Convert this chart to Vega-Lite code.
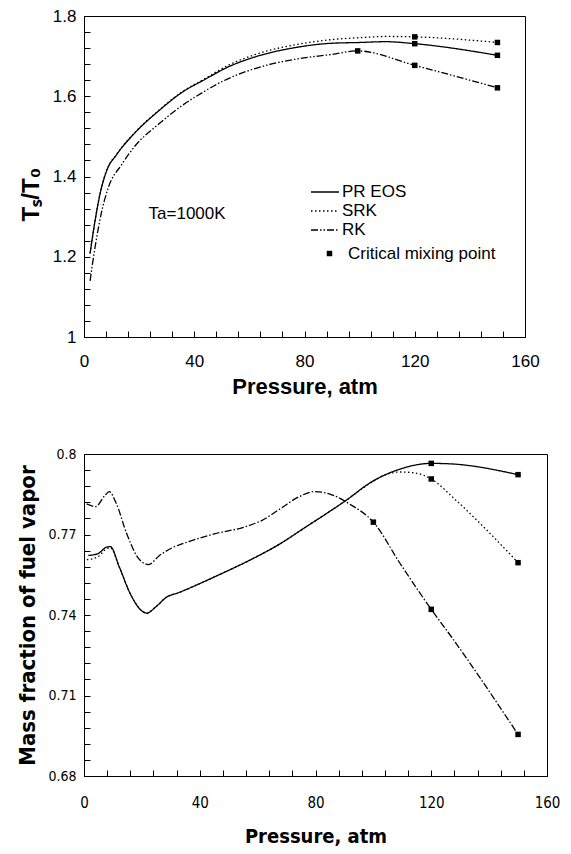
{
  "$schema": "https://vega.github.io/schema/vega-lite/v6.json",
  "padding": {"left": 16, "top": 6, "right": 5, "bottom": 5},
  "background": "white",
  "spacing": 48,
  "config": {
    "view": {"stroke": "black", "strokeWidth": 1},
    "font": "Liberation Sans",
    "axis": {"grid": false, "labelOverlap": false, "labelFlush": false, "tickCount": 40, "domainColor": "black", "tickColor": "black", "tickSize": -6, "tickWidth": 1, "domainWidth": 1, "labelColor": "black", "titleColor": "black", "labelFont": "Liberation Sans", "titleFont": "Liberation Sans"}
  },
  "datasets": {
    "topLines": [
      {"model": "PR EOS", "P": 2.2, "v": 1.208}, {"model": "PR EOS", "P": 4, "v": 1.289}, {"model": "PR EOS", "P": 5.8, "v": 1.356}, {"model": "PR EOS", "P": 8.2, "v": 1.414}, {"model": "PR EOS", "P": 11.9, "v": 1.455}, {"model": "PR EOS", "P": 18.5, "v": 1.509}, {"model": "PR EOS", "P": 27, "v": 1.563}, {"model": "PR EOS", "P": 35.4, "v": 1.609}, {"model": "PR EOS", "P": 43.9, "v": 1.642}, {"model": "PR EOS", "P": 52, "v": 1.672}, {"model": "PR EOS", "P": 63, "v": 1.7}, {"model": "PR EOS", "P": 76.4, "v": 1.721}, {"model": "PR EOS", "P": 89.6, "v": 1.732}, {"model": "PR EOS", "P": 100, "v": 1.734}, {"model": "PR EOS", "P": 109.5, "v": 1.736}, {"model": "PR EOS", "P": 120, "v": 1.731}, {"model": "PR EOS", "P": 150, "v": 1.702},
      {"model": "SRK", "P": 2.2, "v": 1.209}, {"model": "SRK", "P": 4, "v": 1.29}, {"model": "SRK", "P": 5.8, "v": 1.357}, {"model": "SRK", "P": 8.2, "v": 1.415}, {"model": "SRK", "P": 11.9, "v": 1.456}, {"model": "SRK", "P": 18.5, "v": 1.51}, {"model": "SRK", "P": 27, "v": 1.564}, {"model": "SRK", "P": 35.4, "v": 1.61}, {"model": "SRK", "P": 43.9, "v": 1.644}, {"model": "SRK", "P": 52, "v": 1.676}, {"model": "SRK", "P": 63, "v": 1.706}, {"model": "SRK", "P": 76.4, "v": 1.728}, {"model": "SRK", "P": 89.6, "v": 1.741}, {"model": "SRK", "P": 100, "v": 1.746}, {"model": "SRK", "P": 110, "v": 1.749}, {"model": "SRK", "P": 120, "v": 1.748}, {"model": "SRK", "P": 150, "v": 1.734},
      {"model": "RK", "P": 2.2, "v": 1.14}, {"model": "RK", "P": 4, "v": 1.223}, {"model": "RK", "P": 6.2, "v": 1.306}, {"model": "RK", "P": 8.8, "v": 1.372}, {"model": "RK", "P": 13.7, "v": 1.43}, {"model": "RK", "P": 18.5, "v": 1.476}, {"model": "RK", "P": 27, "v": 1.53}, {"model": "RK", "P": 35.4, "v": 1.576}, {"model": "RK", "P": 43.9, "v": 1.613}, {"model": "RK", "P": 50.5, "v": 1.638}, {"model": "RK", "P": 63, "v": 1.671}, {"model": "RK", "P": 76.4, "v": 1.692}, {"model": "RK", "P": 89.6, "v": 1.704}, {"model": "RK", "P": 99.3, "v": 1.713}, {"model": "RK", "P": 120, "v": 1.677}, {"model": "RK", "P": 150, "v": 1.621}
    ],
    "topPts": [
      {"model": "PR EOS", "P": 120, "v": 1.731, "kind": "Critical mixing point"}, {"model": "PR EOS", "P": 150, "v": 1.702, "kind": "Critical mixing point"},
      {"model": "SRK", "P": 120, "v": 1.748, "kind": "Critical mixing point"}, {"model": "SRK", "P": 150, "v": 1.734, "kind": "Critical mixing point"},
      {"model": "RK", "P": 99.3, "v": 1.713, "kind": "Critical mixing point"}, {"model": "RK", "P": 120, "v": 1.677, "kind": "Critical mixing point"}, {"model": "RK", "P": 150, "v": 1.621, "kind": "Critical mixing point"}
    ],
    "botLines": [
      {"model": "PR EOS", "P": 1.5, "v": 0.7622}, {"model": "PR EOS", "P": 4.7, "v": 0.7628}, {"model": "PR EOS", "P": 7.8, "v": 0.7653}, {"model": "PR EOS", "P": 9.1, "v": 0.7655}, {"model": "PR EOS", "P": 12.2, "v": 0.7579}, {"model": "PR EOS", "P": 16, "v": 0.7479}, {"model": "PR EOS", "P": 19.8, "v": 0.7417}, {"model": "PR EOS", "P": 21.7, "v": 0.7407}, {"model": "PR EOS", "P": 24.8, "v": 0.743}, {"model": "PR EOS", "P": 28.6, "v": 0.7467}, {"model": "PR EOS", "P": 32.4, "v": 0.7482}, {"model": "PR EOS", "P": 40, "v": 0.7517}, {"model": "PR EOS", "P": 47.5, "v": 0.7554}, {"model": "PR EOS", "P": 57.6, "v": 0.7606}, {"model": "PR EOS", "P": 67.7, "v": 0.7665}, {"model": "PR EOS", "P": 76.5, "v": 0.7727}, {"model": "PR EOS", "P": 82.8, "v": 0.7771}, {"model": "PR EOS", "P": 90.4, "v": 0.7826}, {"model": "PR EOS", "P": 99.2, "v": 0.7895}, {"model": "PR EOS", "P": 109.3, "v": 0.7944}, {"model": "PR EOS", "P": 120, "v": 0.7965}, {"model": "PR EOS", "P": 127, "v": 0.7963}, {"model": "PR EOS", "P": 150, "v": 0.7923},
      {"model": "SRK", "P": 1, "v": 0.7606}, {"model": "SRK", "P": 4.7, "v": 0.7616}, {"model": "SRK", "P": 7.8, "v": 0.7647}, {"model": "SRK", "P": 9.1, "v": 0.765}, {"model": "SRK", "P": 12.2, "v": 0.7579}, {"model": "SRK", "P": 16, "v": 0.7479}, {"model": "SRK", "P": 19.8, "v": 0.7417}, {"model": "SRK", "P": 21.7, "v": 0.7407}, {"model": "SRK", "P": 24.8, "v": 0.743}, {"model": "SRK", "P": 28.6, "v": 0.7467}, {"model": "SRK", "P": 32.4, "v": 0.7482}, {"model": "SRK", "P": 40, "v": 0.7517}, {"model": "SRK", "P": 47.5, "v": 0.7554}, {"model": "SRK", "P": 57.6, "v": 0.7606}, {"model": "SRK", "P": 67.7, "v": 0.7665}, {"model": "SRK", "P": 76.5, "v": 0.7727}, {"model": "SRK", "P": 82.8, "v": 0.7771}, {"model": "SRK", "P": 90.4, "v": 0.7826}, {"model": "SRK", "P": 99.2, "v": 0.7893}, {"model": "SRK", "P": 104, "v": 0.7922}, {"model": "SRK", "P": 109.3, "v": 0.7933}, {"model": "SRK", "P": 114, "v": 0.793}, {"model": "SRK", "P": 120, "v": 0.7907}, {"model": "SRK", "P": 128, "v": 0.7833}, {"model": "SRK", "P": 137, "v": 0.774}, {"model": "SRK", "P": 150, "v": 0.7595},
      {"model": "RK", "P": 0.9, "v": 0.7814}, {"model": "RK", "P": 4, "v": 0.7804}, {"model": "RK", "P": 7.2, "v": 0.7845}, {"model": "RK", "P": 8.7, "v": 0.786}, {"model": "RK", "P": 11, "v": 0.782}, {"model": "RK", "P": 14.8, "v": 0.7702}, {"model": "RK", "P": 18.5, "v": 0.7616}, {"model": "RK", "P": 22.3, "v": 0.7588}, {"model": "RK", "P": 26.1, "v": 0.7622}, {"model": "RK", "P": 29.9, "v": 0.7647}, {"model": "RK", "P": 37.5, "v": 0.7678}, {"model": "RK", "P": 45, "v": 0.7702}, {"model": "RK", "P": 55.1, "v": 0.7727}, {"model": "RK", "P": 61.4, "v": 0.7752}, {"model": "RK", "P": 67.7, "v": 0.7795}, {"model": "RK", "P": 74, "v": 0.7839}, {"model": "RK", "P": 79.7, "v": 0.786}, {"model": "RK", "P": 85.4, "v": 0.7849}, {"model": "RK", "P": 91.7, "v": 0.7814}, {"model": "RK", "P": 100, "v": 0.7746}, {"model": "RK", "P": 109.3, "v": 0.7591}, {"model": "RK", "P": 120, "v": 0.7421}, {"model": "RK", "P": 127, "v": 0.7318}, {"model": "RK", "P": 150, "v": 0.6955}
    ],
    "botPts": [
      {"model": "PR EOS", "P": 120, "v": 0.7965}, {"model": "PR EOS", "P": 150, "v": 0.7923},
      {"model": "SRK", "P": 120, "v": 0.7907}, {"model": "SRK", "P": 150, "v": 0.7595},
      {"model": "RK", "P": 100, "v": 0.7746}, {"model": "RK", "P": 120, "v": 0.7421}, {"model": "RK", "P": 150, "v": 0.6955}
    ]
  },
  "resolve": {
    "scale": {"x": "independent", "y": "independent", "strokeDash": "independent", "shape": "independent"},
    "legend": {"strokeDash": "independent", "shape": "independent"}
  },
  "vconcat": [
    {
      "width": 441,
      "height": 321,
      "layer": [
        {
          "data": {"name": "topLines"},
          "mark": {"type": "line", "color": "black", "strokeWidth": 1.3, "interpolate": "monotone"},
          "encoding": {
            "x": {"field": "P", "type": "quantitative", "scale": {"domain": [0, 160], "nice": false, "zero": false},
              "axis": {"values": [0, 8, 16, 24, 32, 40, 48, 56, 64, 72, 80, 88, 96, 104, 112, 120, 128, 136, 144, 152, 160], "format": "d", "labelExpr": "datum.value % 40 === 0 ? datum.label : ''", "title": "Pressure, atm", "titleFontSize": 22, "titleFontWeight": "bold", "labelFontSize": 17, "labelPadding": 22, "titlePadding": 7}},
            "y": {"field": "v", "type": "quantitative", "scale": {"domain": [1, 1.8], "nice": false, "zero": false},
              "axis": {"values": [1, 1.04, 1.08, 1.12, 1.16, 1.2, 1.24, 1.28, 1.32, 1.36, 1.4, 1.44, 1.48, 1.52, 1.56, 1.6, 1.64, 1.68, 1.72, 1.76, 1.8], "format": ".2~f", "labelExpr": "abs(datum.value * 5 - round(datum.value * 5)) < 0.01 ? datum.label : ''", "title": "Tₛ/T₀", "titleFontSize": 24, "titleFontWeight": "bold", "titleY": 178, "labelFontSize": 17, "labelPadding": 14, "titlePadding": 9}},
            "strokeDash": {"field": "model", "type": "nominal", "scale": {"domain": ["PR EOS", "SRK", "RK"], "range": [[1, 0], [1.5, 2.5], [7, 2, 1.5, 2, 1.5, 2]]},
              "legend": {"orient": "none", "legendX": 230, "legendY": 165, "title": null, "symbolType": "M-1.4,0H1.4", "symbolSize": 400, "symbolStrokeWidth": 1.3, "symbolStrokeColor": "black", "symbolFillColor": "transparent", "labelFontSize": 17, "labelFont": "Liberation Sans", "labelColor": "black", "labelOffset": 6, "rowPadding": 0, "padding": 0}}
          }
        },
        {
          "data": {"name": "topPts"},
          "mark": {"type": "point", "filled": true, "color": "black", "size": 30, "opacity": 1},
          "encoding": {
            "x": {"field": "P", "type": "quantitative"},
            "y": {"field": "v", "type": "quantitative"},
            "shape": {"field": "kind", "type": "nominal", "scale": {"range": ["square"]},
              "legend": {"orient": "none", "legendX": 237, "legendY": 229, "title": null, "symbolSize": 30, "symbolFillColor": "black", "symbolStrokeColor": "black", "labelFontSize": 17, "labelFont": "Liberation Sans", "labelColor": "black", "labelOffset": 10, "padding": 0}}
          }
        },
        {
          "data": {"values": [{}]},
          "mark": {"type": "text", "fontSize": 17, "font": "Liberation Sans", "color": "black"},
          "encoding": {"x": {"datum": 37.4}, "y": {"datum": 1.306}, "text": {"value": "Ta=1000K"}}
        }
      ]
    },
    {
      "width": 463,
      "height": 322,
      "layer": [
        {
          "data": {"name": "botLines"},
          "mark": {"type": "line", "color": "black", "strokeWidth": 1.3, "interpolate": "monotone"},
          "encoding": {
            "x": {"field": "P", "type": "quantitative", "scale": {"domain": [0, 160], "nice": false, "zero": false},
              "axis": {"values": [0, 8, 16, 24, 32, 40, 48, 56, 64, 72, 80, 88, 96, 104, 112, 120, 128, 136, 144, 152, 160], "format": "d", "labelExpr": "datum.value % 40 === 0 ? datum.label : ''", "title": "Pressure, atm", "titleFontSize": 20, "titleFontWeight": "bold", "labelFontSize": 15, "labelPadding": 25, "titlePadding": 16, "labelFont": "DejaVu Sans Condensed, Liberation Sans", "titleFont": "DejaVu Sans Condensed, Liberation Sans"}},
            "y": {"field": "v", "type": "quantitative", "scale": {"domain": [0.68, 0.8], "nice": false, "zero": false},
              "axis": {"values": [0.68, 0.686, 0.692, 0.698, 0.704, 0.71, 0.716, 0.722, 0.728, 0.734, 0.74, 0.746, 0.752, 0.758, 0.764, 0.77, 0.776, 0.782, 0.788, 0.794, 0.8], "format": ".3~f", "labelExpr": "abs((datum.value - 0.68) / 0.03 - round((datum.value - 0.68) / 0.03)) < 0.01 ? datum.label : ''", "title": "Mass fraction of fuel vapor", "titleFontSize": 22, "titleFontWeight": "bold", "labelFontSize": 14, "labelPadding": 14, "titlePadding": 8, "labelFont": "DejaVu Sans Condensed, Liberation Sans", "titleFont": "DejaVu Sans Condensed, Liberation Sans"}},
            "strokeDash": {"field": "model", "type": "nominal", "scale": {"domain": ["PR EOS", "SRK", "RK"], "range": [[1, 0], [1.5, 2.5], [7, 2, 1.5, 2]]}, "legend": null}
          }
        },
        {
          "data": {"name": "botPts"},
          "mark": {"type": "point", "filled": true, "shape": "square", "color": "black", "size": 30, "opacity": 1},
          "encoding": {
            "x": {"field": "P", "type": "quantitative"},
            "y": {"field": "v", "type": "quantitative"}
          }
        }
      ]
    }
  ]
}
